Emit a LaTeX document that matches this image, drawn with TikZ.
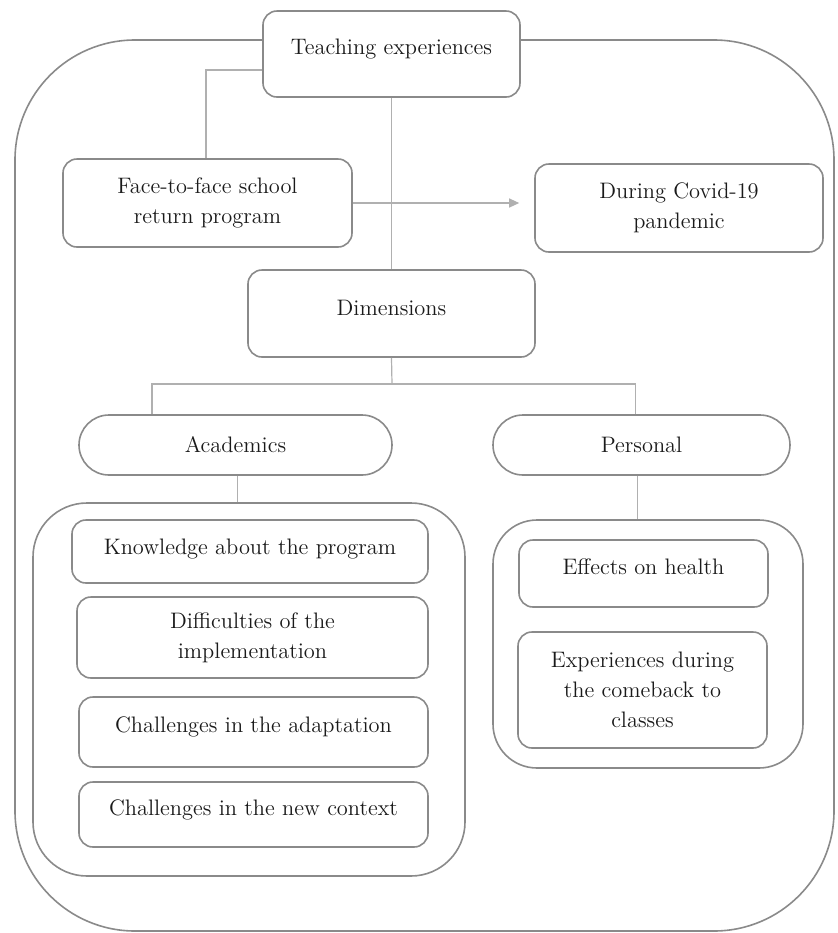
\documentclass[tikz,border=0pt]{standalone}
\usepackage{tikz}
\usetikzlibrary{shapes,arrows.meta,positioning}
\definecolor{boxgray}{HTML}{8A8A8A}
\definecolor{linegray}{HTML}{B0B0B0}
\definecolor{textgray}{HTML}{1A1A1A}

\begin{document}
\begin{tikzpicture}[
    x=0.5pt, y=-0.5pt,
    font=\fontsize{11.2}{15}\selectfont,
    box/.style={rectangle, draw=boxgray, line width=0.8pt, rounded corners=7pt, fill=white, text=textgray, align=center, inner sep=0pt},
    pill/.style={box, rounded corners=15pt, minimum height=30pt},
    group/.style={rectangle, draw=boxgray, line width=0.8pt, inner sep=0pt},
    conn/.style={draw=linegray, line width=0.6pt},
    arrow/.style={conn, -{Triangle[length=5pt,width=4.5pt]}, shorten >=7.5pt}
]
\useasboundingbox (0,0) rectangle (837,933);

% Outer frame
\draw[draw=boxgray, line width=0.8pt, rounded corners=60pt] (15,40) rectangle (834,931);

% Top levels
\node[box, minimum width=128.5pt, minimum height=43pt, text depth=7pt] (teach) at (391.5,54) {Teaching experiences};
\node[box, minimum width=144.5pt, minimum height=44pt] (face) at (207.5,203) {Face-to-face school\\return program};
\node[box, minimum width=144pt, minimum height=44pt] (covid) at (679,208) {During Covid-19\\pandemic};
\node[box, minimum width=143.5pt, minimum height=43.5pt, text depth=5.5pt] (dims) at (391.5,313.5) {Dimensions};

% Dimensions
\node[pill, minimum width=156.5pt] (acad) at (235.5,445) {Academics};
\node[pill, minimum width=148.5pt] (pers) at (641.5,445) {Personal};

% Groups
\node[group, rounded corners=27pt, minimum width=216pt, minimum height=186.5pt] (acadgrp) at (249,689.5) {};
\node[group, rounded corners=22pt, minimum width=155pt, minimum height=124pt] (persgrp) at (648,644) {};

\node[box, minimum width=178pt, minimum height=31.5pt, text depth=4.5pt] (know) at (250,551.5) {Knowledge about the program};
\node[box, minimum width=175.5pt, minimum height=40.5pt] (diff) at (252.5,637.5) {Difficulties of the\\implementation};
\node[box, minimum width=174.5pt, minimum height=35pt, text depth=7pt] (adapt) at (253.5,732) {Challenges in the adaptation};
\node[box, minimum width=174.5pt, minimum height=32.5pt, text depth=6.5pt] (context) at (253.5,814.5) {Challenges in the new context};

\node[box, minimum width=124.5pt, minimum height=33.5pt, text depth=6.5pt] (health) at (643.5,573.5) {Effects on health};
\node[box, minimum width=124.5pt, minimum height=58pt] (comeback) at (642.5,690) {Experiences during\\the comeback to\\classes};

% Connections
\coordinate (fork) at (392,384);
\draw[conn] ([yshift=-8pt]teach.west) -| ([xshift=-0.75pt]face.north);
\draw[conn] (teach.south) -- (dims.north);
\draw[arrow] (face.east) -- (face.east -| covid.west);
\draw[conn] (dims.south) -- (fork);
\draw[conn] (fork) -| ([xshift=-41.75pt]acad.north);
\draw[conn] (fork) -| ([xshift=-3pt]pers.north);
\draw[conn] ([xshift=1pt]acad.south) -- ([xshift=1pt]acad.south |- acadgrp.north);
\draw[conn] ([xshift=-2pt]pers.south) -- ([xshift=-2pt]pers.south |- persgrp.north);

\end{tikzpicture}
\end{document}
